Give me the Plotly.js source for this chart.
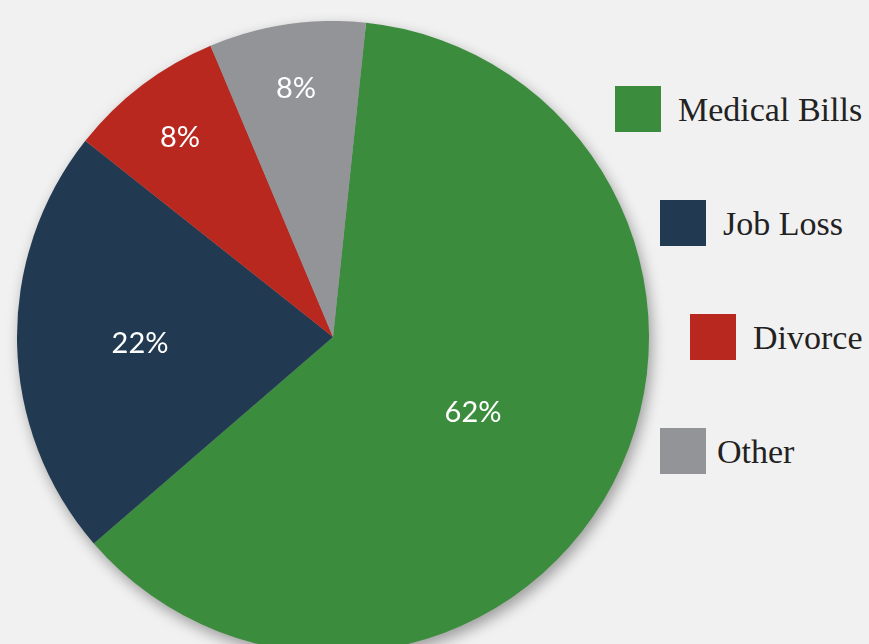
<!DOCTYPE html>
<html>
<head>
<meta charset="utf-8">
<script src="https://cdn.plot.ly/plotly-3.0.1.min.js"></script>
<style>
  html, body { margin:0; padding:0; background:#f2f1f1; }
  #wrap { width:869px; height:644px; overflow:hidden; position:relative; }
  #chart { width:869px; height:660px; }
</style>
</head>
<body>
<div id="wrap"><div id="chart"></div></div>
<script>
// ---- data ----
const labels = ['Medical Bills', 'Job Loss', 'Divorce', 'Other'];
const values = [62, 22, 8, 8];
const colors = ['#3c8c3e', '#213a51', '#b8281e', '#929497'];

// ---- style / layout (pixels) ----
const W = 869, H = 660;
const pieCenter = {x: 333, y: 337}, pieR = 316;
const boxSize = 46;
const legendBoxes = [{x: 615, y: 86}, {x: 660, y: 200}, {x: 690, y: 314}, {x: 660, y: 428}];
const legendGap = [15, 15, 15, 9];

const px = x => x / W;
const py = y => 1 - y / H;

const trace = {
  type: 'pie',
  labels: labels,
  values: values,
  marker: {colors: colors, line: {width: 0}},
  sort: false,
  direction: 'clockwise',
  rotation: 6,
  texttemplate: '%{value}%',
  textposition: 'inside',
  insidetextorientation: 'horizontal',
  textfont: {family: 'Lato, "Open Sans", sans-serif', size: 29, color: '#ffffff'},
  hoverinfo: 'label+percent',
  domain: {
    x: [px(pieCenter.x - pieR), px(pieCenter.x + pieR)],
    y: [py(pieCenter.y + pieR), py(pieCenter.y - pieR)]
  }
};

const shapes = [], annotations = [];
labels.forEach((lab, i) => {
  const b = legendBoxes[i];
  shapes.push({
    type: 'rect', xref: 'paper', yref: 'paper',
    x0: px(b.x), x1: px(b.x + boxSize), y0: py(b.y + boxSize), y1: py(b.y),
    fillcolor: colors[i], line: {width: 0}
  });
  annotations.push({
    xref: 'paper', yref: 'paper', x: px(b.x + boxSize + legendGap[i]), y: py(b.y + boxSize / 2),
    xanchor: 'left', yanchor: 'middle', showarrow: false, text: lab,
    font: {family: '"Liberation Serif", serif', size: 34, color: '#222222'}
  });
});

const layout = {
  width: W, height: H,
  margin: {l: 0, r: 0, t: 0, b: 0},
  paper_bgcolor: '#f2f1f1',
  showlegend: false,
  shapes: shapes,
  annotations: annotations
};

Plotly.newPlot('chart', [trace], layout, {displayModeBar: false, staticPlot: true}).then(() => {
  document.querySelectorAll('.pielayer').forEach(el => {
    el.style.filter = 'drop-shadow(3px 6px 7px rgba(0,0,0,0.35))';
  });
});
</script>
</body>
</html>
